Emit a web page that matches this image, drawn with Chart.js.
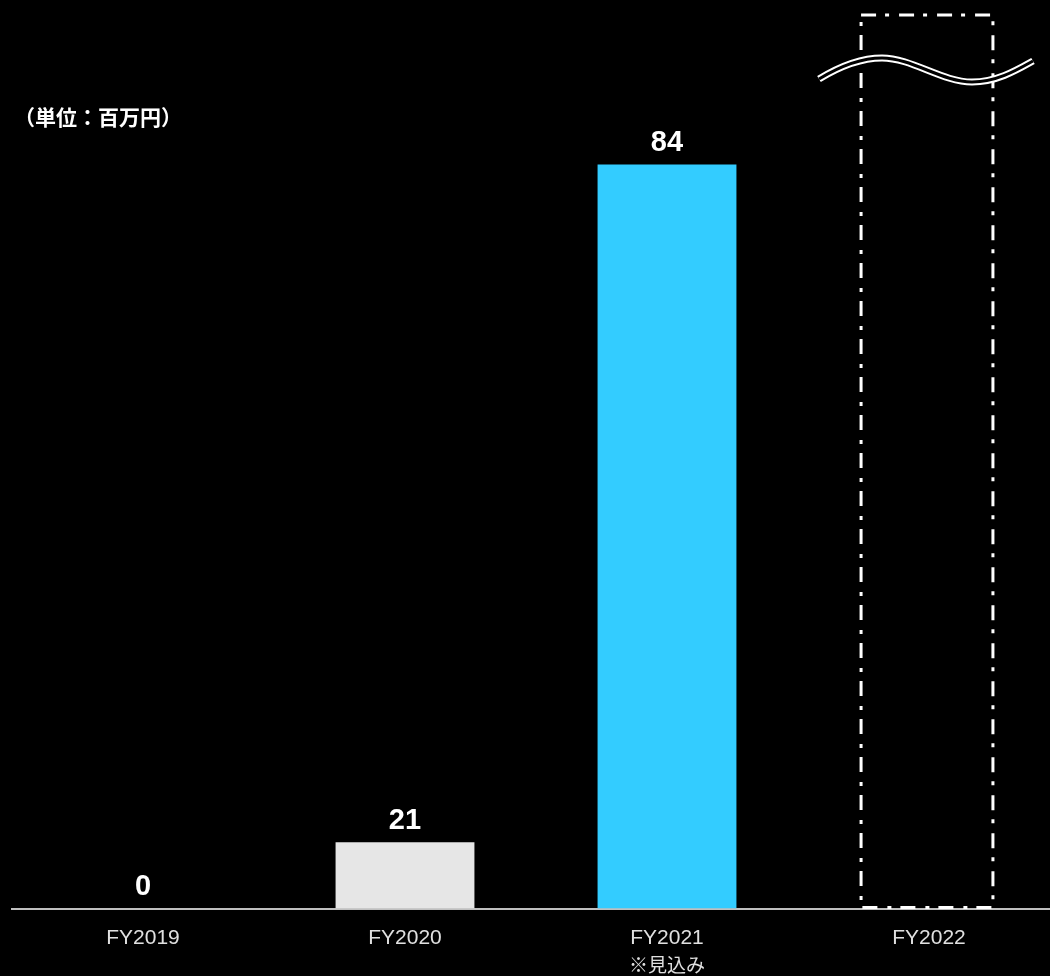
<!DOCTYPE html>
<html>
<head>
<meta charset="utf-8">
<script src="https://cdn.jsdelivr.net/npm/chart.js@4.4.0/dist/chart.umd.min.js"></script>
<style>
  html, body { margin: 0; padding: 0; background: #000; overflow: hidden; }
  #wrap { width: 1060px; height: 976px; position: relative; }
</style>
</head>
<body>
<div id="wrap"><canvas id="barChart"></canvas></div>
<script>
// categories and values
const years = ['FY2019', 'FY2020', 'FY2021', 'FY2022'];
const notes = ['', '', '※見込み', ''];
const valueLabels = ['0', '21', '84', ''];
// bar heights (the original is not drawn to scale, FY2022 runs off the top)
const barHeights = [0, 7.5, 84, 101];
const barColors = ['#e6e6e6', '#e6e6e6', '#33ccff', 'rgba(0,0,0,0)'];
const unitText = '（単位：百万円）';

const latin = '"Liberation Sans", Arial, "Noto Sans CJK JP", sans-serif';

// labels, unit text, dash-dot forecast box and the break mark
const decoPlugin = {
    id: 'deco',
    afterDatasetsDraw(chart) {
        const ctx = chart.ctx;
        const meta = chart.getDatasetMeta(0);
        ctx.save();

        // value labels above bars
        ctx.fillStyle = '#ffffff';
        ctx.font = 'bold 29px ' + latin;
        ctx.textAlign = 'center';
        ctx.textBaseline = 'bottom';
        meta.data.forEach((bar, i) => {
            if (valueLabels[i]) ctx.fillText(valueLabels[i], bar.x, bar.y - 7);
        });

        // note line under the category labels
        ctx.fillStyle = '#e0e0e0';
        ctx.font = '19px "Noto Sans CJK JP", sans-serif';
        ctx.textBaseline = 'middle';
        meta.data.forEach((bar, i) => {
            if (notes[i]) ctx.fillText(notes[i], bar.x, bar.base + 56);
        });

        // forecast box
        const box = meta.data[3];
        const w = box.width - 7;
        ctx.strokeStyle = '#ffffff';
        ctx.lineWidth = 3;
        ctx.setLineDash([15, 9, 4, 10]);
        ctx.strokeRect(box.x - 2 - w / 2, box.y + 1, w, box.base - box.y - 2);
        ctx.setLineDash([]);

        // break mark (double wavy line)
        const cx = box.x - 2, top = box.y;
        const wave = () => {
            ctx.beginPath();
            ctx.moveTo(cx - 108, top + 65);
            ctx.bezierCurveTo(cx - 90, top + 54, cx - 68, top + 44, cx - 45, top + 44);
            ctx.bezierCurveTo(cx - 15, top + 44, cx + 15, top + 68, cx + 45, top + 68);
            ctx.bezierCurveTo(cx + 70, top + 68, cx + 90, top + 56, cx + 106, top + 47);
            ctx.stroke();
        };
        ctx.lineCap = 'butt';
        ctx.strokeStyle = '#ffffff';
        ctx.lineWidth = 7;
        wave();
        ctx.strokeStyle = '#000000';
        ctx.lineWidth = 3;
        wave();

        // unit
        ctx.fillStyle = '#ffffff';
        ctx.font = 'bold 21px "Noto Sans CJK JP", sans-serif';
        ctx.textAlign = 'left';
        ctx.textBaseline = 'middle';
        ctx.fillText(unitText, 14, 117);

        ctx.restore();
    }
};

const config = {
    type: 'bar',
    data: {
        labels: years,
        datasets: [{
            data: barHeights,
            backgroundColor: barColors,
            borderWidth: 0,
            barPercentage: 0.53,
            categoryPercentage: 1
        }]
    },
    options: {
        responsive: true,
        maintainAspectRatio: false,
        animation: false,
        layout: { padding: { left: 12, right: 0, top: 14, bottom: 8 } },
        plugins: {
            legend: { display: false },
            tooltip: { enabled: false }
        },
        scales: {
            y: {
                display: false,
                min: 0,
                max: 101
            },
            x: {
                grid: { display: false, drawTicks: false },
                border: { display: true, color: '#bfbfbf', width: 2 },
                ticks: {
                    color: '#e0e0e0',
                    padding: 15,
                    maxRotation: 0,
                    font: { size: 21, family: latin, lineHeight: 1.4 }
                }
            }
        }
    },
    plugins: [decoPlugin]
};

const ctx1 = document.getElementById('barChart').getContext('2d');
const myChart1 = new Chart(ctx1, config);
</script>
</body>
</html>
